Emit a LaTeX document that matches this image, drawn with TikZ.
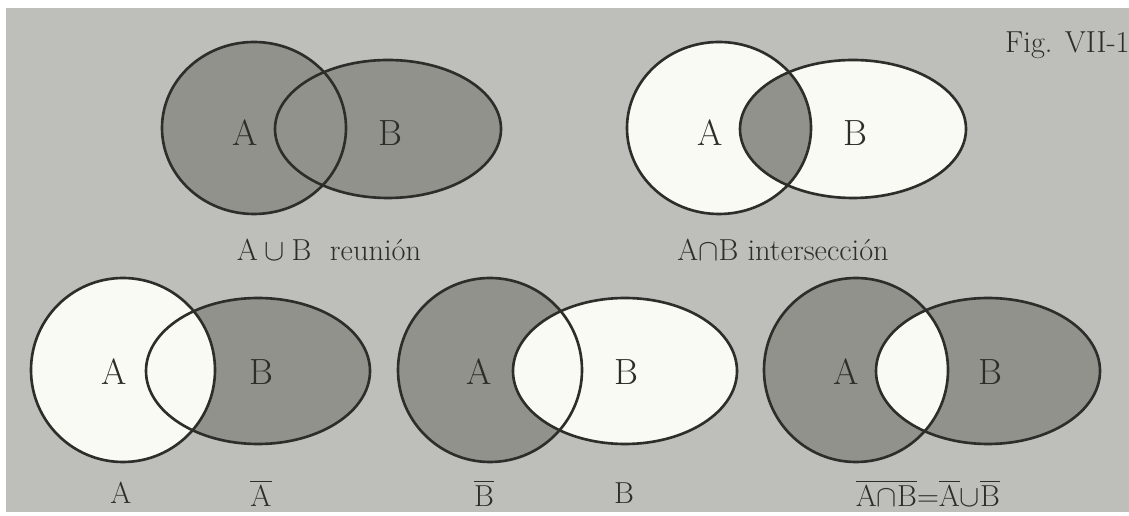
\documentclass[tikz,border=0pt]{standalone}
\usepackage{amsmath,amssymb}
\usepackage{tikz}
\usetikzlibrary{positioning}
\definecolor{paper}{RGB}{190,190,186}
\definecolor{darkset}{RGB}{146,146,141}
\definecolor{blank}{RGB}{250,250,244}
\definecolor{ink}{RGB}{45,45,42}
% set outlines: circle A and ellipse B
\newcommand{\topA}[1]{(#1) ellipse [x radius=92, y radius=86]}
\newcommand{\topB}[1]{(#1) ellipse [x radius=113, y radius=69]}
\newcommand{\botA}[1]{(#1) ellipse [x radius=92, y radius=92]}
\newcommand{\botB}[1]{(#1) ellipse [x radius=112, y radius=73]}
\newcommand{\rA}{\mathrm{A}}
\newcommand{\rB}{\mathrm{B}}

\begin{document}
\begin{tikzpicture}[x=0.02cm,y=0.02cm,
  setlbl/.style={font=\huge,text=ink,inner sep=0pt},
  caption/.style={font=\LARGE,text=ink,inner sep=0pt},
  rim/.style={draw=ink,line width=1.5pt}]
\useasboundingbox (0,0) rectangle (1129,-516);
\fill[white] (0,0) rectangle (1129,-516);
\fill[paper] (6,-8) rectangle (1129,-512);
% centres
\coordinate (a1) at (254,-128); \coordinate (b1) at (388,-129);
\coordinate (a2) at (719,-128); \coordinate (b2) at (853,-129);
\coordinate (a3) at (123,-370); \coordinate (b3) at (258,-371);
\coordinate (a4) at (490,-370); \coordinate (b4) at (625,-371);
\coordinate (a5) at (856,-370); \coordinate (b5) at (988,-371);
% union
\fill[darkset] \topA{a1}; \fill[darkset] \topB{b1};
% intersection
\fill[blank] \topA{a2}; \fill[blank] \topB{b2};
\begin{scope}
\clip \topA{a2}; \fill[darkset] \topB{b2};
\end{scope}
% complement of A
\fill[darkset] \botB{b3}; \fill[blank] \botA{a3};
% complement of B
\fill[darkset] \botA{a4}; \fill[blank] \botB{b4};
% complement of the intersection
\fill[darkset] \botA{a5}; \fill[darkset] \botB{b5};
\begin{scope}
\clip \botA{a5}; \fill[blank] \botB{b5};
\end{scope}
% outlines
\foreach \n in {1,2} {
  \draw[rim] \topA{a\n}; \draw[rim] \topB{b\n};
}
\foreach \n in {3,4,5} {
  \draw[rim] \botA{a\n}; \draw[rim] \botB{b\n};
}
% labels inside the sets
\node[setlbl] (lA1) at (245,-133) {A}; \node[setlbl] (lB1) at (390,-133) {B};
\node[setlbl] (lA2) at (710,-133) {A}; \node[setlbl] (lB2) at (855,-133) {B};
\node[setlbl] (lA3) at (114,-372) {A}; \node[setlbl] (lB3) at (261,-372) {B};
\node[setlbl] (lA4) at (479,-372) {A}; \node[setlbl] (lB4) at (626,-372) {B};
\node[setlbl] (lA5) at (846,-372) {A}; \node[setlbl] (lB5) at (990,-372) {B};
% captions
\node[caption] (cap1) at (329,-250) {$\rA\cup\rB$\ \ reunión};
\node[caption] (cap2) at (783,-250) {$\rA{\cap}\rB$\ intersección};
\node[caption] (cap3a) at (121,-493) {A};
\node[caption] (cap3b) at (261,-493) {$\overline{\rA}$};
\node[caption] (cap4a) at (484,-493) {$\overline{\rB}$};
\node[caption] (cap4b) at (624,-493) {B};
\node[caption] (cap5) at (928,-493) {$\overline{\rA{\cap}\rB}{=}\overline{\rA}{\cup}\overline{\rB}$};
\node[caption,anchor=base east] (fig) at (1130,-53) {Fig. VII-1};
\end{tikzpicture}
\end{document}
